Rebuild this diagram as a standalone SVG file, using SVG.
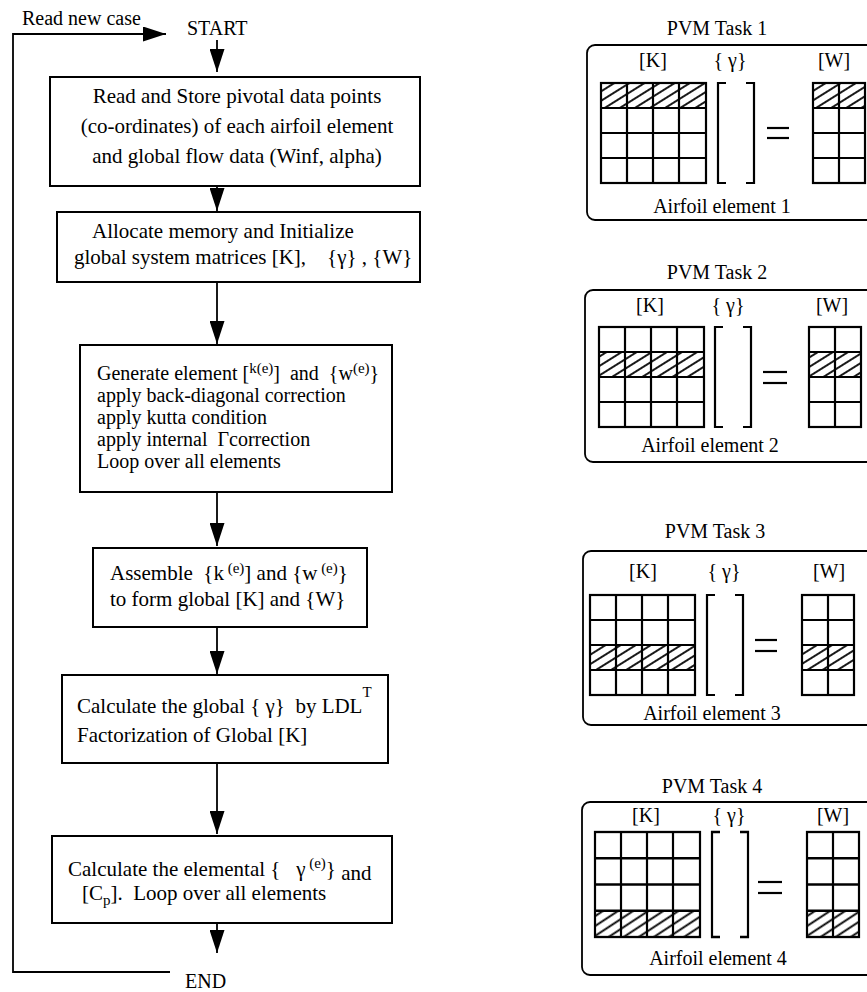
<svg xmlns="http://www.w3.org/2000/svg" width="867" height="992" viewBox="0 0 867 992">
  <style>
    text { font-family: "Liberation Serif", "Times New Roman", serif; fill: #000; }
    .t { font-size: 21px; }
    .t3 { font-size: 20px; }
    .lab { font-size: 20px; }
    .sup { font-size: 15px; }
    .box { fill: #fff; stroke: #000; stroke-width: 2; }
    .panel { fill: none; stroke: #000; stroke-width: 1.8; }
    .grid { fill: none; stroke: #000; stroke-width: 2.2; }
    .conn { fill: none; stroke: #000; stroke-width: 1.8; }
    .brk { fill: none; stroke: #000; stroke-width: 2.2; }
    .hatch { fill: url(#hatch); stroke: none; }
  </style>
  <defs>
    <marker id="arrow" markerUnits="userSpaceOnUse" markerWidth="23" markerHeight="15" refX="23" refY="7.5" orient="auto">
      <path d="M0,0 L23,7.5 L0,15 z" fill="#000"/>
    </marker>
    <pattern id="hatch" patternUnits="userSpaceOnUse" width="8" height="8" patternTransform="rotate(-32)">
      <line x1="0" y1="4" x2="8" y2="4" stroke="#000" stroke-width="1.8"/>
    </pattern>
    <!-- 4x4 coefficient matrix grid, cell 26 x 25 -->
    <g id="kgrid">
      <rect class="grid" x="0" y="0" width="105" height="100"/>
      <line class="grid" x1="26" y1="0" x2="26" y2="100"/>
      <line class="grid" x1="52" y1="0" x2="52" y2="100"/>
      <line class="grid" x1="78" y1="0" x2="78" y2="100"/>
      <line class="grid" x1="0" y1="25" x2="105" y2="25"/>
      <line class="grid" x1="0" y1="50" x2="105" y2="50"/>
      <line class="grid" x1="0" y1="75" x2="105" y2="75"/>
    </g>
    <!-- 2-column right-hand side grid -->
    <g id="wgrid">
      <rect class="grid" x="0" y="0" width="52" height="100"/>
      <line class="grid" x1="26" y1="0" x2="26" y2="100"/>
      <line class="grid" x1="0" y1="25" x2="52" y2="25"/>
      <line class="grid" x1="0" y1="50" x2="52" y2="50"/>
      <line class="grid" x1="0" y1="75" x2="52" y2="75"/>
    </g>
    <!-- unknown vector bracket -->
    <g id="vec">
      <path class="brk" d="M8,0 L0,0 L0,100 L8,100 M28,0 L36,0 L36,100 L28,100"/>
    </g>
  </defs>

  <!-- connectors -->
  <g id="connectors">
    <line class="conn" x1="217" y1="40" x2="217" y2="72" marker-end="url(#arrow)"/>
    <line class="conn" x1="217" y1="186" x2="217" y2="211" marker-end="url(#arrow)"/>
    <line class="conn" x1="217" y1="282" x2="217" y2="344" marker-end="url(#arrow)"/>
    <line class="conn" x1="217" y1="492" x2="217" y2="546" marker-end="url(#arrow)"/>
    <line class="conn" x1="217" y1="627" x2="217" y2="674" marker-end="url(#arrow)"/>
    <line class="conn" x1="217" y1="763" x2="217" y2="834" marker-end="url(#arrow)"/>
    <line class="conn" x1="217" y1="923" x2="217" y2="953" marker-end="url(#arrow)"/>
    <polyline class="conn" points="170,972 13,972 13,34 166,34" marker-end="url(#arrow)"/>
  </g>

  <!-- flow labels -->
  <g id="start">
    <text class="lab" x="22" y="25">Read new case</text>
    <text class="lab" x="187" y="35">START</text>
  </g>
  <g id="end">
    <text class="lab" x="185" y="988">END</text>
  </g>

  <g id="read-data">
    <rect class="box" x="50" y="77" width="370" height="109"/>
    <text class="t" x="237" y="103" text-anchor="middle">Read and Store pivotal data points</text>
    <text class="t" x="237" y="133" text-anchor="middle">(co-ordinates) of each airfoil element</text>
    <text class="t" x="237" y="163" text-anchor="middle">and global flow data (Winf, alpha)</text>
  </g>

  <g id="allocate">
    <rect class="box" x="57" y="212" width="363" height="70"/>
    <text class="t" x="92" y="238">Allocate memory and Initialize</text>
    <text class="t" x="74" y="264">global system matrices [K], &#160;&#160; {γ} , {W}</text>
  </g>

  <g id="generate">
    <rect class="box" x="80" y="345" width="312" height="147"/>
    <text class="t3" x="97" y="380">Generate element [<tspan class="sup" dy="-7">k(e)</tspan><tspan dy="7">]&#160; and&#160; {w</tspan><tspan class="sup" dy="-7">(e)</tspan><tspan dy="7">}</tspan></text>
    <text class="t3" x="97" y="402">apply back-diagonal correction</text>
    <text class="t3" x="97" y="424">apply kutta condition</text>
    <text class="t3" x="97" y="446">apply internal&#160; Γcorrection</text>
    <text class="t3" x="97" y="468">Loop over all elements</text>
  </g>

  <g id="assemble">
    <rect class="box" x="93" y="548" width="274" height="79"/>
    <text class="t" x="110" y="580">Assemble&#160; {k<tspan class="sup" dy="-7"> (e)</tspan><tspan dy="7">] and {w</tspan><tspan class="sup" dy="-7"> (e)</tspan><tspan dy="7">}</tspan></text>
    <text class="t" x="110" y="606">to form global [K] and {W}</text>
  </g>

  <g id="solve">
    <rect class="box" x="62" y="675" width="326" height="88"/>
    <text class="t" x="77" y="713">Calculate the global { γ}&#160; by LDL<tspan class="sup" dy="-16">T</tspan></text>
    <text class="t" x="77" y="742">Factorization of Global [K]</text>
  </g>

  <g id="elemental">
    <rect class="box" x="52" y="836" width="340" height="87"/>
    <text class="t" x="68" y="876">Calculate the elemental {&#160;&#160; γ<tspan class="sup" dy="-8"> (e)</tspan><tspan dy="8">}</tspan><tspan dy="4"> and</tspan></text>
    <text class="t" x="82" y="900">[C<tspan class="sup" dy="5">p</tspan><tspan dy="-5">].&#160; Loop over all elements</tspan></text>
  </g>

  <!-- PVM task 1 -->
  <g id="task1">
    <text class="lab" x="717" y="35" text-anchor="middle">PVM Task 1</text>
    <rect class="panel" x="587" y="45" width="300" height="175" rx="8"/>
    <text class="lab" x="653" y="67" text-anchor="middle">[K]</text>
    <text class="lab" x="730" y="67" text-anchor="middle">{ γ}</text>
    <text class="lab" x="834" y="67" text-anchor="middle">[W]</text>
    <rect class="hatch" x="601" y="83" width="105" height="25"/>
    <rect class="hatch" x="813" y="83" width="52" height="25"/>
    <use href="#kgrid" x="601" y="83"/>
    <use href="#vec" x="718" y="83"/>
    <line class="grid" x1="767" y1="128" x2="789" y2="128"/>
    <line class="grid" x1="767" y1="138" x2="789" y2="138"/>
    <use href="#wgrid" x="813" y="83"/>
    <text class="lab" x="722" y="213" text-anchor="middle">Airfoil element 1</text>
  </g>

  <!-- PVM task 2 -->
  <g id="task2">
    <text class="lab" x="717" y="279" text-anchor="middle">PVM Task 2</text>
    <rect class="panel" x="585" y="290" width="300" height="172" rx="8"/>
    <text class="lab" x="650" y="312" text-anchor="middle">[K]</text>
    <text class="lab" x="728" y="312" text-anchor="middle">{ γ}</text>
    <text class="lab" x="832" y="312" text-anchor="middle">[W]</text>
    <rect class="hatch" x="599" y="352" width="105" height="25"/>
    <rect class="hatch" x="809" y="352" width="52" height="25"/>
    <use href="#kgrid" x="599" y="327"/>
    <use href="#vec" x="715" y="327"/>
    <line class="grid" x1="763" y1="372" x2="787" y2="372"/>
    <line class="grid" x1="763" y1="383" x2="787" y2="383"/>
    <use href="#wgrid" x="809" y="327"/>
    <text class="lab" x="710" y="452" text-anchor="middle">Airfoil element 2</text>
  </g>

  <!-- PVM task 3 -->
  <g id="task3">
    <text class="lab" x="715" y="538" text-anchor="middle">PVM Task 3</text>
    <rect class="panel" x="583" y="551" width="300" height="174" rx="8"/>
    <text class="lab" x="643" y="578" text-anchor="middle">[K]</text>
    <text class="lab" x="724" y="578" text-anchor="middle">{ γ}</text>
    <text class="lab" x="829" y="578" text-anchor="middle">[W]</text>
    <rect class="hatch" x="590" y="645" width="105" height="25"/>
    <rect class="hatch" x="802" y="645" width="52" height="25"/>
    <use href="#kgrid" x="590" y="595"/>
    <use href="#vec" x="707" y="595"/>
    <line class="grid" x1="755" y1="640" x2="777" y2="640"/>
    <line class="grid" x1="755" y1="651" x2="777" y2="651"/>
    <use href="#wgrid" x="802" y="595"/>
    <text class="lab" x="712" y="720" text-anchor="middle">Airfoil element 3</text>
  </g>

  <!-- PVM task 4 -->
  <g id="task4">
    <text class="lab" x="712" y="793" text-anchor="middle">PVM Task 4</text>
    <rect class="panel" x="582" y="802" width="300" height="173" rx="8"/>
    <text class="lab" x="646" y="822" text-anchor="middle">[K]</text>
    <text class="lab" x="729" y="822" text-anchor="middle">{ γ}</text>
    <text class="lab" x="833" y="822" text-anchor="middle">[W]</text>
    <g transform="translate(595,832) scale(1,1.05)">
      <rect class="hatch" x="0" y="75" width="105" height="25"/>
      <use href="#kgrid"/>
    </g>
    <g transform="translate(712,832) scale(1,1.05)">
      <use href="#vec"/>
    </g>
    <line class="grid" x1="758" y1="882" x2="782" y2="882"/>
    <line class="grid" x1="758" y1="893" x2="782" y2="893"/>
    <g transform="translate(807,832) scale(1,1.05)">
      <rect class="hatch" x="0" y="75" width="52" height="25"/>
      <use href="#wgrid"/>
    </g>
    <text class="lab" x="718" y="965" text-anchor="middle">Airfoil element 4</text>
  </g>
</svg>
